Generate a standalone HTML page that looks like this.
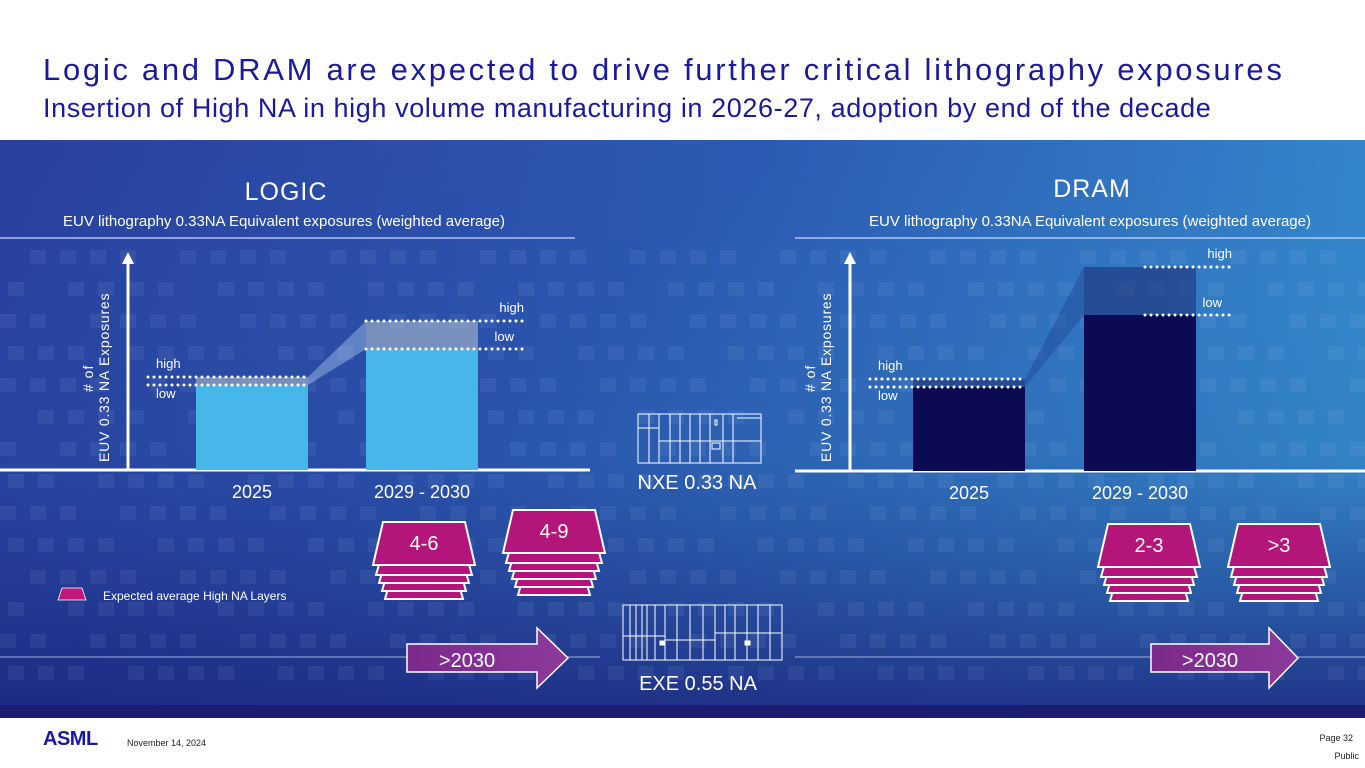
<!DOCTYPE html>
<html><head><meta charset="utf-8">
<style>
body{margin:0;width:1365px;height:768px;overflow:hidden;background:#fff;font-family:"Liberation Sans",sans-serif;position:relative}
.t1{position:absolute;left:43px;top:52px;font-size:31px;color:#1a1a9c;letter-spacing:2.7px;white-space:nowrap}
.t2{position:absolute;left:43px;top:93px;font-size:27px;color:#1a1a9c;letter-spacing:0.6px;white-space:nowrap}
#panel{position:absolute;left:0;top:140px}
.foot{position:absolute;font-size:9px;color:#222}
</style></head><body>
<div class="t1">Logic and DRAM are expected to drive further critical lithography exposures</div>
<div class="t2">Insertion of High NA in high volume manufacturing in 2026-27, adoption by end of the decade</div>
<svg id="panel" width="1365" height="580" viewBox="0 140 1365 580" font-family="Liberation Sans, sans-serif">
<defs>
<linearGradient id="bg" x1="0" y1="0" x2="1" y2="0.55">
<stop offset="0" stop-color="#2a3f9e"/><stop offset="0.45" stop-color="#2d5cb5"/><stop offset="1" stop-color="#3aa2dc"/></linearGradient>
<linearGradient id="bgb" x1="0" y1="0" x2="0" y2="1">
<stop offset="0" stop-color="#1c2580" stop-opacity="0"/><stop offset="0.55" stop-color="#1c2580" stop-opacity="0.25"/><stop offset="1" stop-color="#1b1f78" stop-opacity="0.85"/></linearGradient>
<linearGradient id="arr" x1="0" y1="0" x2="1" y2="0"><stop offset="0" stop-color="#7b2a8c"/><stop offset="1" stop-color="#8c3a9c"/></linearGradient>
</defs>
<rect x="0" y="140" width="1365" height="578" fill="url(#bg)"/>
<rect x="0" y="140" width="1365" height="578" fill="url(#bgb)"/>
<g id="pattern" opacity="0.07" fill="#c8dcff"></g>
<rect x="0" y="705" width="1365" height="13" fill="#1c1c70"/>
<text x="286" y="200" font-size="25" fill="#fff" text-anchor="middle" letter-spacing="1">LOGIC</text>
<text x="1092" y="197" font-size="25" fill="#fff" text-anchor="middle" letter-spacing="1">DRAM</text>
<text x="284" y="226" font-size="15" fill="#fff" text-anchor="middle">EUV lithography 0.33NA Equivalent exposures (weighted average)</text>
<text x="1090" y="226" font-size="15" fill="#fff" text-anchor="middle">EUV lithography 0.33NA Equivalent exposures (weighted average)</text>
<line x1="0" y1="238" x2="575" y2="238" stroke="#cfd8f0" stroke-width="1.2"/>
<line x1="795" y1="238" x2="1365" y2="238" stroke="#cfd8f0" stroke-width="1.2"/>
<g id="charts"></g>
<g fill="none" stroke="#fff" stroke-width="1">
<rect x="638" y="414" width="123" height="49"/>
<line x1="638" y1="428" x2="659" y2="428"/><line x1="659" y1="441" x2="761" y2="441"/>
<line x1="649" y1="414" x2="649" y2="463"/><line x1="659" y1="414" x2="659" y2="463"/><line x1="670" y1="414" x2="670" y2="463"/><line x1="680" y1="414" x2="680" y2="463"/><line x1="690" y1="414" x2="690" y2="463"/><line x1="700" y1="414" x2="700" y2="463"/><line x1="710" y1="414" x2="710" y2="463"/><line x1="723" y1="414" x2="723" y2="463"/><line x1="733" y1="414" x2="733" y2="463"/><line x1="737" y1="418" x2="761" y2="418"/>
<rect x="712" y="443" width="8" height="6"/><rect x="715" y="420" width="2" height="5"/>
</g>
<text x="697" y="489" font-size="20" fill="#fff" text-anchor="middle">NXE 0.33 NA</text>
<g fill="none" stroke="#fff" stroke-width="1">
<rect x="623" y="605" width="159" height="55"/>
<line x1="623" y1="636" x2="665" y2="636"/><line x1="665" y1="640" x2="715" y2="640"/><line x1="715" y1="633" x2="782" y2="633"/>
<line x1="630" y1="605" x2="630" y2="660"/><line x1="636" y1="605" x2="636" y2="660"/><line x1="642" y1="605" x2="642" y2="660"/><line x1="647" y1="605" x2="647" y2="660"/><line x1="655" y1="605" x2="655" y2="660"/><line x1="665" y1="605" x2="665" y2="660"/><line x1="677" y1="605" x2="677" y2="660"/><line x1="690" y1="605" x2="690" y2="660"/><line x1="703" y1="605" x2="703" y2="660"/><line x1="715" y1="605" x2="715" y2="660"/><line x1="725" y1="605" x2="725" y2="660"/><line x1="735" y1="605" x2="735" y2="660"/><line x1="747" y1="605" x2="747" y2="660"/><line x1="758" y1="605" x2="758" y2="660"/><line x1="770" y1="605" x2="770" y2="660"/>
<rect x="660" y="641" width="5" height="4" fill="#fff"/><rect x="745" y="641" width="5" height="4" fill="#fff"/>
</g>
<text x="698" y="690" font-size="20" fill="#fff" text-anchor="middle">EXE 0.55 NA</text>
<line x1="0" y1="657" x2="600" y2="657" stroke="#9fb0e0" stroke-width="1.2" opacity="0.8"/>
<line x1="795" y1="657" x2="1365" y2="657" stroke="#9fb0e0" stroke-width="1.2" opacity="0.8"/>
<g>
<polygon points="407,644 537,644 537,628 568,658 537,688 537,672 407,672" fill="url(#arr)" stroke="#fff" stroke-width="1.5"/>
<text x="467" y="667" font-size="20" fill="#fff" text-anchor="middle">&gt;2030</text></g>
<g>
<polygon points="1151,644 1269,644 1269,628 1298,658 1269,688 1269,672 1151,672" fill="url(#arr)" stroke="#fff" stroke-width="1.5"/>
<text x="1210" y="667" font-size="20" fill="#fff" text-anchor="middle">&gt;2030</text></g>
<g id="stacks"></g>
<g>
<polygon points="62,588 82,588 86,600 58,600" fill="#c2187e" stroke="#fff" stroke-width="0.8"/>
<text x="103" y="600" font-size="12" fill="#fff">Expected average High NA Layers</text></g>
</svg>
<div class="foot" style="left:43px;top:728px;font-size:20px;font-weight:900;color:#1a1aa0;letter-spacing:-0.5px">ASML</div>
<div class="foot" style="left:127px;top:738px">November 14, 2024</div>
<div class="foot" style="right:12px;top:733px">Page 32</div>
<div class="foot" style="right:6px;top:751px">Public</div>
<script>
var NS='http://www.w3.org/2000/svg';
var categories=['2025','2029 - 2030'];
var logicLow=[21.25,30.25];
var logicHigh=[23.25,37.25];
var dramLow=[21,39];
var dramHigh=[23,51];
var layerLabels=[['4-6','4-9'],['2-3','>3']];
function mk(p,t,a){var e=document.createElementNS(NS,t);for(var k in a)e.setAttribute(k,a[k]);p.appendChild(e);return e;}
var pg=document.getElementById('pattern');
for(var r=0;r<14;r++){for(var c=0;c<46;c++){if((r*7+c*3)%5===0)continue;var re=mk(pg,'rect',{x:c*30+(r%2)*8,y:250+r*32,width:16,height:14});}}
var cg=document.getElementById('charts');
function chart(o){
  var base=o.base,k=4;
  function y(v){return base-v*k;}
  function bx(i){return o.x0+i*o.step;}
  var g=mk(cg,'g',{});
  
  
  var ax=mk(g,'line',{x1:o.ax0,y1:base,x2:o.ax1,y2:base,stroke:'#fff','stroke-width':3});
  
  
  var ay=mk(g,'line',{x1:o.yx,y1:base,x2:o.yx,y2:262,stroke:'#fff','stroke-width':3});
  
  
  var ah=mk(g,'polygon',{points:(o.yx-6)+',264 '+(o.yx+6)+',264 '+o.yx+',252',fill:'#fff'});
  
  
  var yt=mk(g,'text',{transform:'translate('+(o.yx-19)+',462) rotate(-90)','font-size':14,fill:'#fff','letter-spacing':'0.8'});
  yt.textContent='EUV 0.33 NA Exposures';
  
  
  var yt2=mk(g,'text',{transform:'translate('+(o.yx-35)+',392) rotate(-90)','font-size':14,fill:'#fff','letter-spacing':'1'});
  yt2.textContent='# of';
  
  
  var w=112;
  var cn=mk(g,'polygon',{points:(bx(0)+w)+','+y(o.high[0])+' '+bx(1)+','+y(o.high[1])+' '+bx(1)+','+y(o.low[1])+' '+(bx(0)+w)+','+y(o.low[0]),fill:o.conn,opacity:0.35});
  
  
  for(var i=0;i<categories.length;i++){
    var b=mk(g,'rect',{x:bx(i),y:y(o.low[i]),width:w,height:base-y(o.low[i]),fill:o.color});
    
    
    var hb=mk(g,'rect',{x:bx(i),y:y(o.high[i]),width:w,height:y(o.low[i])-y(o.high[i]),fill:o.hcolor,opacity:0.55});
    
    
    var lx0=i===0?o.yx+20:o.dx1[0], lx1=i===0?bx(0)+w:o.dx1[1];
    var hl=mk(g,'line',{x1:lx0,y1:y(o.high[i]),x2:lx1,y2:y(o.high[i]),stroke:'#fff','stroke-width':3,'stroke-dasharray':'0 6','stroke-linecap':'round'});
    
    
    var ll=mk(g,'line',{x1:lx0,y1:y(o.low[i]),x2:lx1,y2:y(o.low[i]),stroke:'#fff','stroke-width':3,'stroke-dasharray':'0 6','stroke-linecap':'round'});
    
    
    var th=mk(g,'text',{x:i===0?lx0+8:lx1,y:y(o.high[i])-9,'font-size':13,fill:'#fff','text-anchor':i===0?'start':'end'});
    th.textContent='high';
    
    
    var tl=mk(g,'text',{x:i===0?lx0+8:lx1-10,y:i===0?y(o.low[i])+13:y(o.low[i])-8,'font-size':13,fill:'#fff','text-anchor':i===0?'start':'end'});
    tl.textContent='low';
    
    
    var cl=mk(g,'text',{x:bx(i)+w/2,y:base+28,'font-size':18,fill:'#fff','text-anchor':'middle'});
    cl.textContent=categories[i];
    
    
  }
}
chart({name:'logic',base:470,x0:196,step:170,ax0:0,ax1:590,yx:128,low:logicLow,high:logicHigh,color:'#47b6e8',hcolor:'#b8c4cc',conn:'#cfe6ff',dx1:[366,524]});
chart({name:'dram',base:471,x0:913,step:171,ax0:795,ax1:1365,yx:850,low:dramLow,high:dramHigh,color:'#0c0a52',hcolor:'#1b2a70',conn:'#1a3d8c',dx1:[1145,1232]});
var sg=document.getElementById('stacks');
var stackX=[[373,503],[1098,1228]];
var stackTop=[[522,510],[524,524]];
for(var s=0;s<2;s++)for(var j=0;j<2;j++){
  var x=stackX[s][j],t=stackTop[s][j],n=(s===0&&j===1)?6:5;
  var gg=mk(sg,'g',{});
  
  
  for(var L=n-1;L>=0;L--){
    var yy=t+L*8+(L>0?10:0), ins=L*3;
    var h=(L===0?43:35);
    var p=mk(gg,'polygon',{points:(x+10+ins)+','+yy+' '+(x+92-ins)+','+yy+' '+(x+102-ins)+','+(yy+h)+' '+(x+ins)+','+(yy+h),fill:'#b3157a',stroke:'#fff','stroke-width':2});
    
    
  }
  var tx=mk(gg,'text',{x:x+51,y:t+28,'font-size':20,fill:'#fff','text-anchor':'middle'});
  tx.textContent=layerLabels[s][j];
  
  
}
</script>
</body></html>
